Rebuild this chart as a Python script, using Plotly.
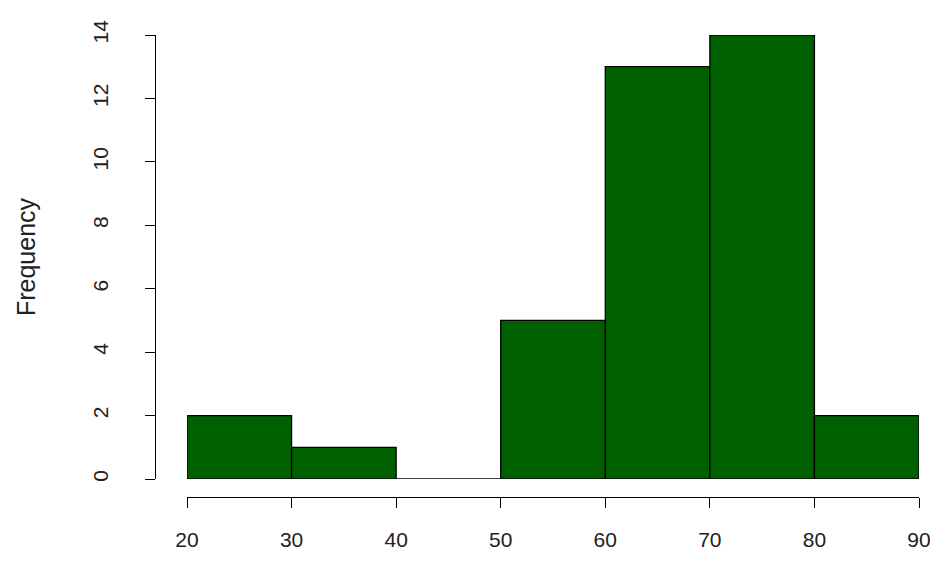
import plotly.graph_objects as go

bin_starts = [20, 30, 40, 50, 60, 70, 80]
counts = [2, 1, 0, 5, 13, 14, 2]
bin_width = 10

fig = go.Figure(go.Bar(
    x=[s + bin_width / 2 for s in bin_starts], y=counts, width=bin_width,
    marker=dict(color="#006000", line=dict(color="black", width=1.3)),
))
W, H = 938, 570
l, r, t, b = 147, 27, 27, 81
pw, ph = W - l - r, H - t - b
font = dict(family="Liberation Sans, Arial", size=21, color="#222")
fig.update_layout(
    width=W, height=H, margin=dict(l=l, r=r, t=t, b=b),
    plot_bgcolor="white", paper_bgcolor="white", showlegend=False, font=font,
    xaxis=dict(domain=[32 / pw, 1], range=[20, 90], anchor="free", position=0,
               tickvals=list(range(20, 91, 10)), showline=True, linecolor="black",
               linewidth=1.3, ticks="outside", ticklen=10, tickcolor="black",
               ticklabelstandoff=14, showgrid=False, zeroline=False),
    yaxis=dict(domain=[18 / ph, 1], range=[0, 14], anchor="free", position=0,
               tickvals=list(range(0, 15, 2)), tickangle=-90, showline=True,
               linecolor="black", linewidth=1.3, ticks="outside", ticklen=10,
               tickcolor="black", ticklabelstandoff=28, showgrid=False, zeroline=False,
               title=dict(text="Frequency", standoff=45)),
)
fig.write_html("out.html")
